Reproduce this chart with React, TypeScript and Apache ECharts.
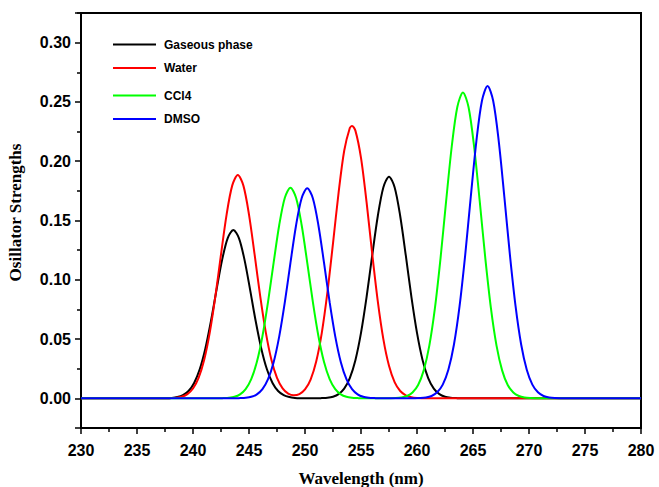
import React, { useEffect, useRef } from 'react';
import * as echarts from 'echarts';

// (wavelength nm, oscillator strength)
const seriesNames = ['Gaseous phase', 'Water', 'CCl4', 'DMSO'];
const seriesColors = ['#000000', '#ff0000', '#00ff00', '#0000ff'];

const gaseousX = [230,
  237.1, 237.6, 238.1, 238.6, 239.1, 239.6, 240.1, 240.6, 241.1, 241.6, 242.1, 242.6, 243.1, 243.6,
  244.1, 244.6, 245.1, 245.6, 246.1, 246.6, 247.1, 247.6, 248.1, 248.6, 249.1, 249.6, 250.1,
  251.0, 251.5, 252.0, 252.5, 253.0, 253.5, 254.0, 254.5, 255.0, 255.5, 256.0, 256.5, 257.0, 257.5,
  258.0, 258.5, 259.0, 259.5, 260.0, 260.5, 261.0, 261.5, 262.0, 262.5, 263.0, 263.5, 264.0,
  280];
const gaseousY = [0,
  0.0000, 0.0001, 0.0004, 0.0011, 0.0027, 0.0062, 0.0130, 0.0245, 0.0419, 0.0650, 0.0915, 0.1168, 0.1352, 0.1420,
  0.1352, 0.1168, 0.0915, 0.0650, 0.0419, 0.0245, 0.0130, 0.0062, 0.0027, 0.0011, 0.0004, 0.0001, 0.0000,
  0.0000, 0.0002, 0.0005, 0.0014, 0.0036, 0.0082, 0.0171, 0.0322, 0.0552, 0.0856, 0.1205, 0.1538, 0.1781, 0.1870,
  0.1781, 0.1538, 0.1205, 0.0856, 0.0552, 0.0322, 0.0171, 0.0082, 0.0036, 0.0014, 0.0005, 0.0002, 0.0000,
  0];

const waterX = [230,
  237.5, 238.0, 238.5, 239.0, 239.5, 240.0, 240.5, 241.0, 241.5, 242.0, 242.5, 243.0, 243.5, 244.0,
  244.5, 245.0, 245.5, 246.0, 246.5, 247.0, 247.5, 248.0, 248.5, 249.0, 249.5, 250.0, 250.5,
  251.0, 251.5, 252.0, 252.5, 253.0, 253.5, 254.0, 254.2, 254.5, 255.0, 255.5, 256.0, 256.5,
  257.0, 257.5, 258.0, 258.5, 259.0, 259.5, 260.0, 260.5, 261.0,
  280];
const waterY = [0,
  0.0000, 0.0002, 0.0005, 0.0014, 0.0036, 0.0083, 0.0172, 0.0325, 0.0556, 0.0862, 0.1214, 0.1550, 0.1794, 0.1884,
  0.1794, 0.1550, 0.1214, 0.0862, 0.0556, 0.0325, 0.0172, 0.0084, 0.0040, 0.0026, 0.0036, 0.0075, 0.0159,
  0.0311, 0.0553, 0.0893, 0.1307, 0.1735, 0.2088, 0.2280, 0.2298, 0.2258, 0.2028, 0.1652, 0.1220, 0.0818,
  0.0497, 0.0274, 0.0137, 0.0062, 0.0026, 0.0010, 0.0003, 0.0001, 0.0000,
  0];

const ccl4X = [230,
  242.2, 242.7, 243.2, 243.7, 244.2, 244.7, 245.2, 245.7, 246.2, 246.7, 247.2, 247.7, 248.2, 248.7,
  249.2, 249.7, 250.2, 250.7, 251.2, 251.7, 252.2, 252.7, 253.2, 253.7, 254.2, 254.7, 255.2,
  257.6, 258.1, 258.6, 259.1, 259.6, 260.1, 260.6, 261.1, 261.6, 262.1, 262.6, 263.1, 263.6, 264.1,
  264.6, 265.1, 265.6, 266.1, 266.6, 267.1, 267.6, 268.1, 268.6, 269.1, 269.6, 270.1, 270.6,
  280];
const ccl4Y = [0,
  0.0000, 0.0002, 0.0005, 0.0013, 0.0034, 0.0078, 0.0162, 0.0306, 0.0524, 0.0814, 0.1145, 0.1462, 0.1692, 0.1777,
  0.1692, 0.1462, 0.1145, 0.0814, 0.0524, 0.0306, 0.0162, 0.0078, 0.0034, 0.0013, 0.0005, 0.0002, 0.0000,
  0.0001, 0.0002, 0.0007, 0.0020, 0.0050, 0.0113, 0.0236, 0.0445, 0.0761, 0.1181, 0.1663, 0.2122, 0.2457, 0.2580,
  0.2457, 0.2122, 0.1663, 0.1181, 0.0761, 0.0445, 0.0236, 0.0113, 0.0050, 0.0020, 0.0007, 0.0002, 0.0001,
  0];

const dmsoX = [230,
  243.7, 244.2, 244.7, 245.2, 245.7, 246.2, 246.7, 247.2, 247.7, 248.2, 248.7, 249.2, 249.7, 250.2,
  250.7, 251.2, 251.7, 252.2, 252.7, 253.2, 253.7, 254.2, 254.7, 255.2, 255.7, 256.2, 256.7,
  259.8, 260.3, 260.8, 261.3, 261.8, 262.3, 262.8, 263.3, 263.8, 264.3, 264.8, 265.3, 265.8, 266.3,
  266.8, 267.3, 267.8, 268.3, 268.8, 269.3, 269.8, 270.3, 270.8, 271.3, 271.8, 272.3, 272.8,
  280];
const dmsoY = [0,
  0.0000, 0.0002, 0.0005, 0.0013, 0.0034, 0.0078, 0.0162, 0.0305, 0.0523, 0.0811, 0.1142, 0.1458, 0.1688, 0.1772,
  0.1688, 0.1458, 0.1142, 0.0811, 0.0523, 0.0305, 0.0162, 0.0078, 0.0034, 0.0013, 0.0005, 0.0002, 0.0000,
  0.0001, 0.0002, 0.0007, 0.0020, 0.0051, 0.0116, 0.0241, 0.0454, 0.0777, 0.1206, 0.1698, 0.2168, 0.2510, 0.2635,
  0.2510, 0.2168, 0.1698, 0.1206, 0.0777, 0.0454, 0.0241, 0.0116, 0.0051, 0.0020, 0.0007, 0.0002, 0.0001,
  0];

const seriesX = [gaseousX, waterX, ccl4X, dmsoX];
const seriesY = [gaseousY, waterY, ccl4Y, dmsoY];

const X_MIN = 230;
const X_MAX = 280;
const X_STEP = 5;
const Y_MIN = -0.025;
const Y_MAX = 0.325;
const Y_STEP = 0.05;

const SANS = '"Liberation Sans", Arial, sans-serif';
const SERIF = '"Liberation Serif", "Times New Roman", serif';

// vertical centres of the four legend rows
const legendRowY = [45.5, 69, 96.5, 120];

export default function App() {
  const ref = useRef<HTMLDivElement>(null);

  useEffect(() => {
    document.documentElement.style.overflow = 'hidden';
    document.body.style.margin = '0';
    document.body.style.overflow = 'hidden';
    if (!ref.current) return;
    const chart = echarts.init(ref.current, undefined, { renderer: 'svg' });

    const legendText = {
      fontFamily: SANS,
      fontWeight: 'bold' as const,
      fontSize: 12,
      color: '#000',
      padding: [0, 0, 0, 3],
    };

    chart.setOption({
      animation: false,
      backgroundColor: '#ffffff',
      grid: {
        left: 81,
        right: 18,
        top: 13,
        bottom: 59,
        containLabel: false,
        outerBoundsMode: 'none',
        show: true,
        borderColor: '#000',
        borderWidth: 2,
        backgroundColor: 'transparent',
      },
      legend: seriesNames.map((name, i) => ({
        data: [name],
        orient: 'vertical',
        left: 113,
        top: legendRowY[i] - 7,
        padding: 0,
        icon: 'rect',
        itemWidth: 43,
        itemHeight: 2,
        textStyle: legendText,
        selectedMode: false,
      })),
      xAxis: {
        type: 'value',
        min: X_MIN,
        max: X_MAX,
        interval: X_STEP,
        name: 'Wavelength (nm)',
        nameLocation: 'middle',
        nameGap: 42,
        nameTextStyle: { fontFamily: SERIF, fontWeight: 'bold', fontSize: 17, color: '#000' },
        axisLine: { show: true, onZero: false, lineStyle: { color: '#000', width: 2 } },
        axisTick: { show: true, length: 6, lineStyle: { color: '#000', width: 1.5 } },
        minorTick: { show: true, splitNumber: 2, length: 4, lineStyle: { color: '#000', width: 1.5 } },
        axisLabel: { fontFamily: SANS, fontWeight: 'bold', fontSize: 16, color: '#000', margin: 14 },
        splitLine: { show: false },
      },
      yAxis: {
        type: 'value',
        min: Y_MIN,
        max: Y_MAX,
        splitNumber: 7,
        minInterval: Y_STEP,
        maxInterval: Y_STEP,
        name: 'Osillator Strengths',
        nameLocation: 'middle',
        nameGap: 57,
        nameTextStyle: {
          fontFamily: SERIF,
          fontWeight: 'bold',
          fontSize: 17,
          color: '#000',
          padding: [0, 0, 0, 16],
        },
        axisLine: { show: true, onZero: false, lineStyle: { color: '#000', width: 2 } },
        axisTick: { show: true, length: 6, lineStyle: { color: '#000', width: 1.5 } },
        minorTick: { show: true, splitNumber: 2, length: 4, lineStyle: { color: '#000', width: 1.5 } },
        axisLabel: {
          fontFamily: SANS,
          fontWeight: 'bold',
          fontSize: 16,
          color: '#000',
          margin: 10,
          showMinLabel: false,
          showMaxLabel: false,
          formatter: (v: number) => {
            const k = v / Y_STEP;
            return Math.abs(k - Math.round(k)) > 1e-6 ? '' : v.toFixed(2);
          },
        },
        splitLine: { show: false },
      },
      series: seriesNames.map((name, i) => ({
        name,
        type: 'line',
        symbol: 'none',
        smooth: 0.3,
        color: seriesColors[i],
        itemStyle: { color: seriesColors[i] },
        lineStyle: { color: seriesColors[i], width: 2 },
        data: seriesX[i].map((x, j) => [x, seriesY[i][j]]),
        z: 2 + i,
      })),
    });

    return () => chart.dispose();
  }, []);

  return (
    <div
      ref={ref}
      style={{ position: 'fixed', left: 0, top: 0, width: 659, height: 487 }}
    />
  );
}
